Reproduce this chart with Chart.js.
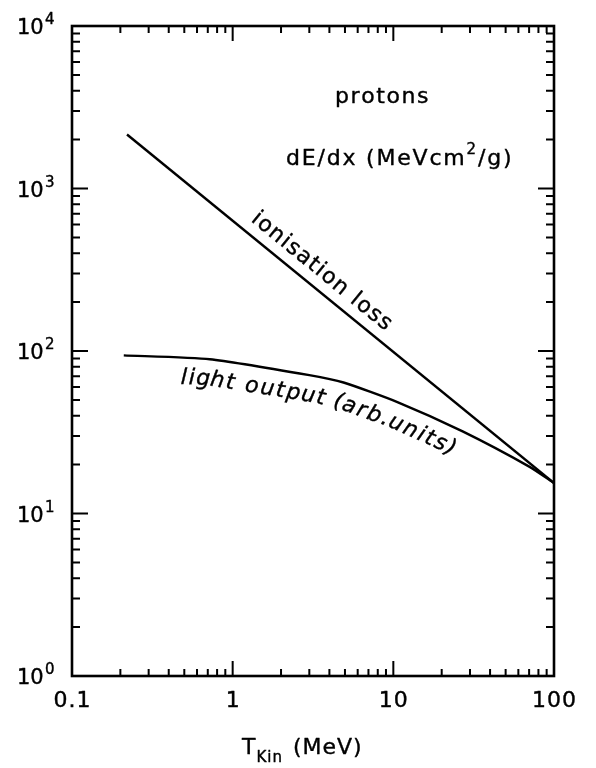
<!DOCTYPE html>
<html>
<head>
<meta charset="utf-8">
<script src="https://cdn.jsdelivr.net/npm/chart.js@4.4.1/dist/chart.umd.min.js"></script>
<style>
  html, body { margin: 0; padding: 0; background: #fff; }
</style>
</head>
<body>
<canvas id="myChart" width="596" height="768"></canvas>
<script>
// kinetic energy (MeV) and curve values
const ionEnergy = [0.22, 100];
const ionLoss = [2150, 15.4];
const lightEnergy = [0.21, 0.72, 3.0, 4.9, 10.6, 27, 71, 100];
const lightOutput = [94, 89, 71, 64, 48.5, 32, 19.3, 15.4];

// axis labels
const xTickValues = [0.1, 1, 10, 100];
const xTickLabels = ['0.1', '1', '10', '100'];
const yExponents = [0, 1, 2, 3, 4];

const FONT = '"DejaVu Sans", sans-serif';

function toPoints(xs, ys) {
  return xs.map((x, i) => ({ x: x, y: ys[i] }));
}

// filled + thin outline so the letters look a bit heavier
function ink(ctx, ch, x, y) {
  ctx.fillText(ch, x, y);
  ctx.strokeText(ch, x, y);
}

// text with manual letter spacing, left aligned
function spacedWidth(ctx, str, sp) {
  let w = 0;
  for (const ch of str) w += ctx.measureText(ch).width + sp;
  return w - sp;
}
function spacedText(ctx, str, x, y, sp) {
  ctx.textAlign = 'left';
  for (const ch of str) {
    ink(ctx, ch, x, y);
    x += ctx.measureText(ch).width + sp;
  }
  return x;
}

// put each letter along a polyline, offset sideways from it
function textAlong(ctx, pts, str, start, offset, sp) {
  const segs = [];
  let total = 0;
  for (let i = 1; i < pts.length; i++) {
    const dx = pts[i].x - pts[i - 1].x, dy = pts[i].y - pts[i - 1].y;
    const len = Math.hypot(dx, dy);
    segs.push({ x0: pts[i - 1].x, y0: pts[i - 1].y, dx, dy, len, s0: total });
    total += len;
  }
  function at(s) {
    s = Math.max(0, Math.min(total, s));
    const g = segs.find(q => s <= q.s0 + q.len) || segs[segs.length - 1];
    const t = (s - g.s0) / g.len;
    return { x: g.x0 + g.dx * t, y: g.y0 + g.dy * t };
  }
  ctx.textAlign = 'center';
  let s = start;
  for (const ch of str) {
    const w = ctx.measureText(ch).width;
    const mid = s + w / 2;
    const p = at(mid), a = at(mid - 10), b = at(mid + 10);
    const ang = Math.atan2(b.y - a.y, b.x - a.x);
    ctx.save();
    ctx.translate(p.x - Math.sin(ang) * offset, p.y + Math.cos(ang) * offset);
    ctx.rotate(ang);
    ink(ctx, ch, 0, 0);
    ctx.restore();
    s += w + sp;
  }
}

// inward ticks on all four sides
function logTicks(min, max) {
  const out = [];
  for (let e = Math.floor(Math.log10(min)); e <= Math.ceil(Math.log10(max)); e++) {
    for (let m = 1; m <= 9; m++) {
      const v = m * Math.pow(10, e);
      if (v >= min * 0.999 && v <= max * 1.001) out.push({ v, major: m === 1 });
    }
  }
  return out;
}

const framePlugin = {
  id: 'frame',
  afterDraw(chart) {
    const ctx = chart.ctx;
    const area = chart.chartArea;
    const xs = chart.scales.x, ys = chart.scales.y;
    ctx.save();
    ctx.strokeStyle = '#000';
    ctx.fillStyle = '#000';

    ctx.lineWidth = 2.6;
    ctx.strokeRect(area.left, area.top, area.right - area.left, area.bottom - area.top);

    ctx.lineWidth = 2;
    ctx.beginPath();
    logTicks(xs.min, xs.max).forEach(t => {
      const px = xs.getPixelForValue(t.v);
      const len = t.major ? 15 : 7;
      ctx.moveTo(px, area.bottom); ctx.lineTo(px, area.bottom - len);
      ctx.moveTo(px, area.top); ctx.lineTo(px, area.top + len);
    });
    logTicks(ys.min, ys.max).forEach(t => {
      const py = ys.getPixelForValue(t.v);
      const len = t.major ? 16 : 8;
      ctx.moveTo(area.left, py); ctx.lineTo(area.left + len, py);
      ctx.moveTo(area.right, py); ctx.lineTo(area.right - len, py);
    });
    ctx.stroke();

    ctx.lineWidth = 0.4;
    ctx.lineJoin = 'round';

    // x tick labels
    ctx.font = '22px ' + FONT;
    ctx.textBaseline = 'alphabetic';
    xTickValues.forEach((v, i) => {
      const px = xs.getPixelForValue(v);
      const w = spacedWidth(ctx, xTickLabels[i], 1);
      spacedText(ctx, xTickLabels[i], px - w / 2, area.bottom + 31, 1);
    });

    // y tick labels 10^n
    yExponents.forEach(e => {
      const py = ys.getPixelForValue(Math.pow(10, e));
      ctx.font = '21px ' + FONT;
      spacedText(ctx, '10', 17, py + 8, 0);
      ctx.font = '15px ' + FONT;
      spacedText(ctx, String(e), 45, py - 2, 0);
    });

    // axis title
    ctx.font = '22px ' + FONT;
    let x = spacedText(ctx, 'T', 242, 754, 1);
    ctx.font = '15px ' + FONT;
    x = spacedText(ctx, 'Kin', x, 762, 1);
    ctx.font = '22px ' + FONT;
    spacedText(ctx, ' (MeV)', x + 2, 754, 1);

    // annotations
    spacedText(ctx, 'protons', 335, 103, 1.6);
    x = spacedText(ctx, 'dE/dx (MeVcm', 286, 165, 1.8);
    ctx.font = '15px ' + FONT;
    x = spacedText(ctx, '2', x, 154, 0);
    ctx.font = '22px ' + FONT;
    spacedText(ctx, '/g)', x + 2, 165, 1.8);

    const ionPts = chart.getDatasetMeta(0).data.map(p => ({ x: p.x, y: p.y }));
    const lightPts = chart.getDatasetMeta(1).data.map(p => ({ x: p.x, y: p.y }));
    ctx.font = '22px ' + FONT;
    textAlong(ctx, ionPts, 'ionisation loss', 150, -11, 1.3);
    ctx.font = 'italic 22px ' + FONT;
    textAlong(ctx, lightPts, 'light output (arb.units)', 58, 26, 1.9);

    ctx.restore();
  }
};

const ctx = document.getElementById('myChart');

const myChart = new Chart(ctx, {
  type: 'line',
  data: {
    datasets: [{
      label: 'ionisation loss',
      data: toPoints(ionEnergy, ionLoss),
      borderColor: '#000',
      borderWidth: 2.4,
      pointRadius: 0,
      tension: 0
    }, {
      label: 'light output',
      data: toPoints(lightEnergy, lightOutput),
      borderColor: '#000',
      borderWidth: 2.4,
      pointRadius: 0,
      tension: 0.2
    }]
  },
  options: {
    responsive: false,
    animation: false,
    layout: { padding: { left: 72, right: 42, top: 26, bottom: 92 } },
    plugins: { legend: { display: false }, tooltip: { enabled: false } },
    scales: {
      x: { type: 'logarithmic', min: 0.1, max: 100, display: false },
      y: { type: 'logarithmic', min: 1, max: 10000, display: false }
    }
  },
  plugins: [framePlugin]
});
</script>
</body>
</html>
